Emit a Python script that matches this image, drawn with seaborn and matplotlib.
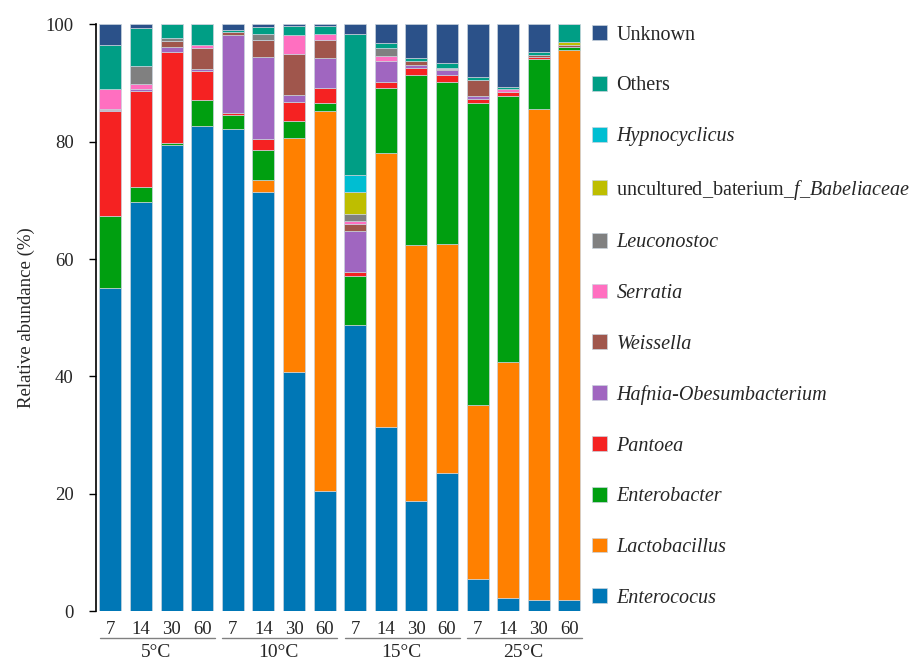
import numpy as np
import pandas as pd
import matplotlib
matplotlib.use("Agg")
import matplotlib.pyplot as plt
import matplotlib.transforms as mtransforms
import seaborn as sns

# Sampling design: storage temperature groups and storage days
temperatures = ["5°C", "10°C", "15°C", "25°C"]
days = ["7", "14", "30", "60"]

# Relative abundance (%) of each taxon per sample (temperature x day)
enterococus   = [55.1, 69.7, 79.4, 82.6, 82.2, 71.4, 40.8, 20.4, 48.7, 31.3, 18.7, 23.5, 5.5, 2.2, 1.8, 1.8]
lactobacillus = [0, 0, 0, 0, 0, 2.1, 39.9, 64.8, 0, 46.7, 43.7, 39.1, 29.6, 40.3, 83.8, 93.9]
enterobacter  = [12.2, 2.6, 0.4, 4.45, 2.3, 5.0, 2.9, 1.4, 8.4, 11.2, 29.0, 27.6, 51.5, 45.2, 8.5, 0.5]
pantoea       = [17.9, 16.4, 15.4, 4.95, 0.4, 2.0, 3.2, 2.6, 0.7, 1.0, 1.2, 1.2, 0.7, 0.7, 0.3, 0]
hafnia        = [0.2, 0.3, 0.9, 0.45, 13.3, 13.9, 1.1, 5.1, 7.0, 3.5, 0.4, 0.8, 0.4, 0, 0, 0]
weissella     = [0.2, 0, 1.0, 3.55, 0.5, 3.0, 7.0, 3.1, 1.2, 0, 0.7, 0.2, 2.8, 0, 0.4, 0.3]
serratia      = [3.3, 0.8, 0, 0.5, 0, 0, 3.3, 1.0, 0.5, 0.9, 0, 0.2, 0, 0.6, 0, 0]
leuconostoc   = [0, 3.1, 0.5, 0, 0, 1.0, 0, 0, 1.2, 1.3, 0, 0, 0, 0, 0, 0]
uncultured    = [0, 0, 0, 0, 0, 0, 0, 0, 3.8, 0, 0, 0, 0, 0, 0, 0.5]
hypnocyclicus = [0, 0, 0, 0, 0, 0, 0, 0, 2.9, 0, 0, 0, 0, 0, 0, 0]
others        = [7.6, 6.4, 2.4, 3.5, 0.3, 1.2, 1.5, 1.3, 24.0, 0.9, 0.5, 0.8, 0.6, 0.3, 0.5, 3.0]
unknown       = [3.5, 0.7, 0, 0, 1.0, 0.4, 0.3, 0.3, 1.6, 3.2, 5.8, 6.6, 8.9, 10.7, 4.7, 0]

# Legend order, top of the stack first
taxa = ["Unknown", "Others", "Hypnocyclicus", "uncultured_baterium_f_Babeliaceae",
        "Leuconostoc", "Serratia", "Weissella", "Hafnia-Obesumbacterium",
        "Pantoea", "Enterobacter", "Lactobacillus", "Enterococus"]
series = [unknown, others, hypnocyclicus, uncultured, leuconostoc, serratia,
          weissella, hafnia, pantoea, enterobacter, lactobacillus, enterococus]
colors = ["#2B5189", "#009E85", "#00BED2", "#BEBE00", "#808080", "#FF6FC0",
          "#A0564C", "#A066C0", "#F52222", "#009F10", "#FF8000", "#0077B6"]

samples = [f"{t}-{d}" for t in temperatures for d in days]
rows = []
for name, vals in zip(taxa, series):
    for s, v in zip(samples, vals):
        rows.append({"sample": s, "taxon": name, "abundance": v})
df = pd.DataFrame(rows)
df["sample"] = pd.Categorical(df["sample"], categories=samples, ordered=True)

sns.set_style("ticks")
plt.rcParams["font.family"] = ["Liberation Serif", "DejaVu Serif"]
plt.rcParams["mathtext.fontset"] = "custom"
plt.rcParams["mathtext.rm"] = "Liberation Serif"
plt.rcParams["mathtext.it"] = "Liberation Serif:italic"

fig = plt.figure(figsize=(9.18, 6.59), dpi=100)
ax = fig.add_axes([0.1046, 0.0728, 0.5324, 0.8903])

sns.histplot(data=df, x="sample", weights="abundance", hue="taxon",
             hue_order=taxa, palette=dict(zip(taxa, colors)),
             multiple="stack", discrete=True, shrink=0.72, alpha=1,
             edgecolor="#c9d3dc", linewidth=0.5, ax=ax)

ax.set_xlim(-0.47, 15.5)
ax.set_ylim(0, 100)
ax.set_yticks([0, 20, 40, 60, 80, 100])
ax.set_xticks(range(len(samples)))
ax.set_xticklabels([d for _ in temperatures for d in days], fontsize=13.5)
ax.tick_params(axis="x", length=0, pad=7)
ax.tick_params(axis="y", length=5, width=1.0, pad=11, labelsize=13.5, color="black")
ax.set_xlabel("")
ax.set_ylabel("Relative abundance (%)", fontsize=13.5, labelpad=8)
sns.despine(ax=ax, bottom=True)
ax.spines["left"].set_linewidth(1.2)
ax.spines["left"].set_color("black")

# Temperature group underlines and labels below the day labels
trans = mtransforms.blended_transform_factory(ax.transData, ax.transAxes)
for g, temp in enumerate(temperatures):
    x0, x1 = g * 4 - 0.35, g * 4 + 3 + 0.42
    ax.plot([x0, x1], [-0.046, -0.046], color="#808080", lw=1.0,
            transform=trans, clip_on=False)
    ax.text(g * 4 + 1.5, -0.070, temp, transform=trans, ha="center", va="center",
            fontsize=14)

# Legend to the right of the bars
sns.move_legend(ax, "upper left", bbox_to_anchor=(0.645, 0.9615),
                bbox_transform=fig.transFigure, title=None, frameon=False,
                fontsize=14.5, labelspacing=1.555, handlelength=0.75,
                handleheight=0.75, handletextpad=0.45, borderpad=0,
                borderaxespad=0)
leg = ax.get_legend()
plain = {"Unknown", "Others"}
for txt in leg.get_texts():
    name = txt.get_text()
    if name == "uncultured_baterium_f_Babeliaceae":
        txt.set_text(r"uncultured_baterium_$\mathit{f\_Babeliaceae}$")
    elif name not in plain:
        txt.set_fontstyle("italic")

fig.savefig("out.png", dpi=100)
